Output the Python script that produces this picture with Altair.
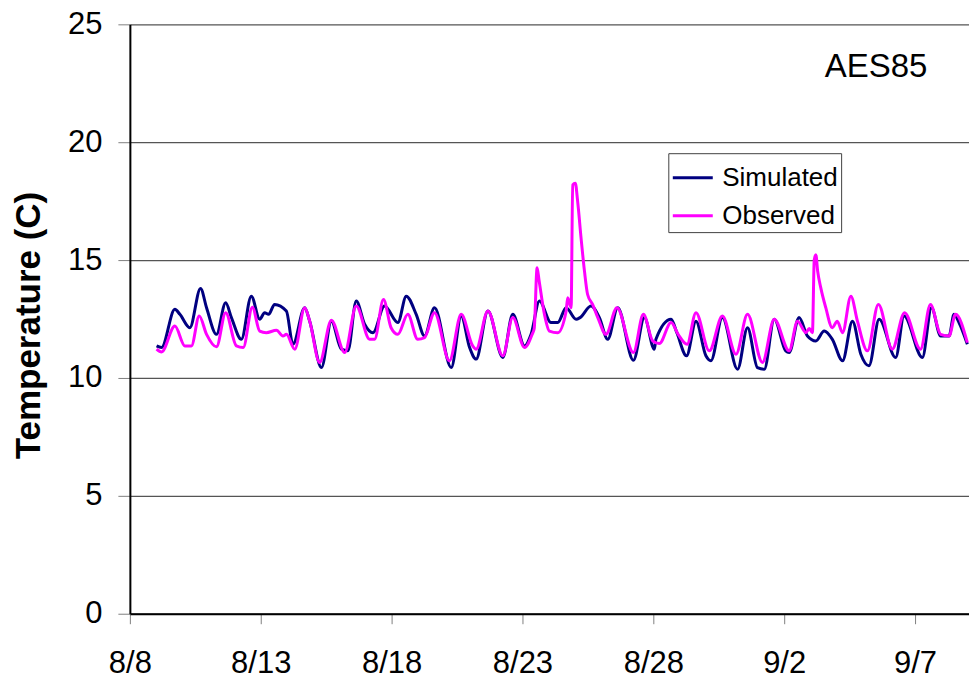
import altair as alt
import pandas as pd

# Days after 8/8 00:00 and temperatures (C)
sim_days = [1.02, 1.21, 1.72, 1.91, 2.29, 2.70, 2.93, 3.31, 3.66, 3.88, 4.26, 4.64, 4.96, 5.15, 5.30,
            5.53, 5.98, 6.23, 6.68, 6.87, 7.32, 7.70, 8.08, 8.33, 8.65, 8.97, 9.29, 9.73, 10.24, 10.56,
            10.94, 11.26, 11.64, 12.28, 12.66, 12.98, 13.23, 13.68, 14.25, 14.63, 15.08, 15.33, 15.65,
            16.09, 16.35, 16.67, 17.05, 17.20, 17.62, 17.94, 18.26, 18.64, 19.24, 19.66, 20.04, 20.10,
            20.68, 20.90, 21.27, 21.63, 22.01, 22.20, 22.64, 23.22, 23.60, 23.98, 24.24, 24.62, 25.06,
            25.19, 25.57, 25.89, 26.21, 26.53, 26.84, 27.23, 27.61, 27.93, 28.24, 28.63, 29.26, 29.58,
            30.28, 30.63, 30.98, 31.30, 31.49, 31.68, 32.00]
sim_temp = [11.36, 11.29, 12.91, 12.70, 12.13, 13.80, 12.98, 11.85, 13.19, 12.56, 11.64, 13.47, 12.49, 12.77, 12.70,
            13.12, 12.84, 11.43, 12.98, 12.41, 10.44, 12.41, 11.22, 11.15, 13.26, 12.28, 11.92, 13.05, 12.35, 13.47,
            12.70, 11.78, 12.98, 10.44, 12.63, 11.29, 10.80, 12.84, 10.87, 12.70, 11.36, 11.85, 13.26,
            12.35, 12.35, 12.98, 12.49, 12.56, 13.05, 12.56, 11.64, 12.98, 10.75, 12.56, 11.22, 11.64,
            12.49, 11.92, 10.94, 12.41, 10.94, 10.73, 12.56, 10.37, 12.13, 10.44, 10.37, 12.49, 11.15,
            11.08, 12.56, 11.78, 11.57, 11.99, 11.64, 10.73, 12.41, 11.01, 10.52, 12.49, 10.87, 12.63,
            10.87, 12.98, 11.78, 11.78, 12.70, 12.35, 11.43]

obs_days = [1.02, 1.21, 1.72, 2.10, 2.35, 2.65, 2.93, 3.31, 3.66, 4.07, 4.33, 4.68, 4.96, 5.21, 5.60,
            5.85, 5.98, 6.30, 6.68, 6.87, 7.25, 7.70, 8.21, 8.65, 9.16, 9.35, 9.69, 9.98, 10.24, 10.62,
            11.00, 11.26, 11.64, 12.21, 12.66, 13.10, 13.23, 13.68, 14.25, 14.63, 15.08, 15.37, 15.45,
            15.56, 15.64, 15.84, 16.03, 16.35, 16.67, 16.73, 16.86, 16.92, 17.02, 17.11, 17.24, 17.37,
            17.49, 17.68, 17.88, 18.19, 18.61, 19.24, 19.62, 19.98, 20.23, 20.68, 20.95, 21.29, 21.63,
            22.14, 22.64, 23.16, 23.60, 24.17, 24.62, 25.19, 25.51, 25.83, 25.96, 26.08, 26.15, 26.21,
            26.28, 26.40, 26.59, 26.84, 27.03, 27.23, 27.55, 27.80, 28.18, 28.60, 29.13, 29.60, 30.21,
            30.59, 30.98, 31.30, 31.55, 32.00]
obs_temp = [11.22, 11.10, 12.20, 11.36, 11.36, 12.63, 11.85, 11.32, 12.77, 11.36, 11.29, 13.00, 11.99, 11.92, 12.02,
            11.78, 11.85, 11.22, 12.98, 12.41, 10.66, 12.45, 11.08, 13.05, 11.64, 11.64, 13.33, 12.13, 11.85, 12.70,
            11.64, 11.71, 12.77, 10.73, 12.70, 11.36, 11.22, 12.84, 10.94, 12.56, 11.29, 11.85, 12.10,
            14.67, 14.10, 12.70, 11.99, 11.92, 12.84, 13.40, 12.98, 18.19, 18.26, 17.48, 15.93, 14.53,
            13.54, 13.12, 12.56, 11.85, 12.98, 11.08, 12.70, 11.57, 11.46, 12.35, 11.85, 11.43, 12.77,
            11.15, 12.63, 11.01, 12.70, 10.66, 12.49, 11.15, 12.41, 11.92, 12.10, 11.92, 15.02, 15.23,
            14.53, 13.82, 12.98, 12.13, 12.41, 11.92, 13.47, 12.41, 11.15, 13.12, 11.22, 12.77, 11.22,
            13.12, 11.85, 11.78, 12.70, 11.50]

series_names = ["Simulated", "Observed"]
series_colors = ["#000080", "#FF00FF"]
y_ticks = [0, 5, 10, 15, 20, 25]
start = pd.Timestamp("2005-08-08")

def frame(days, temps, name):
    return pd.DataFrame({
        "time": [(start + pd.to_timedelta(d, unit="D")).strftime("%Y-%m-%dT%H:%M:%S") for d in days],
        "temp": temps,
        "series": name,
    })

df = pd.concat([frame(sim_days, sim_temp, "Simulated"), frame(obs_days, obs_temp, "Observed")],
               ignore_index=True)

FONT = "Liberation Sans"
x_tick_dates = [alt.DateTime(year=2005, month=8, date=d) for d in (8, 13, 18, 23, 28)] + \
               [alt.DateTime(year=2005, month=9, date=d) for d in (2, 7)]

lines = alt.Chart(df).mark_line(strokeWidth=3, clip=True, interpolate="monotone").encode(
    x=alt.X("time:T",
            scale=alt.Scale(domain=[alt.DateTime(year=2005, month=8, date=8),
                                    alt.DateTime(year=2005, month=9, date=9, hours=1, minutes=30)]),
            axis=alt.Axis(values=x_tick_dates, format="%-m/%-d", title=None, grid=False,
                          domainColor="#000000", domainWidth=2, tickColor="#808080", tickSize=10,
                          labelFontSize=31, labelFont=FONT, labelColor="#000000", labelPadding=25,
                          labelFlush=False, labelOverlap=False)),
    y=alt.Y("temp:Q",
            scale=alt.Scale(domain=[0, 25], nice=False),
            axis=alt.Axis(values=y_ticks, title="Temperature (C)", grid=True, gridColor="#555555",
                          gridWidth=1.2, domainColor="#000000", domainWidth=2, tickColor="#808080",
                          tickSize=12, labelFontSize=31, labelFont=FONT, labelColor="#000000",
                          labelPadding=16, titleFont=FONT, titleFontSize=35, titleFontWeight="bold",
                          titleColor="#000000", titleX=-101, titleY=301, titleBaseline="middle",
                          titleAngle=270)),
    color=alt.Color("series:N",
                    scale=alt.Scale(domain=series_names, range=series_colors),
                    legend=alt.Legend(title=None, orient="none", legendX=539, legendY=129,
                                      symbolType="stroke", symbolSize=1600, symbolStrokeWidth=3,
                                      labelFont=FONT, labelFontSize=26, labelColor="#000000",
                                      labelOffset=8, rowPadding=3, padding=3,
                                      strokeColor="#404040", fillColor="#FFFFFF")),
    order=alt.Order("time:T"),
)

label = alt.Chart(pd.DataFrame({"txt": ["AES85"]})).mark_text(
    font=FONT, fontSize=33, color="#000000", align="center", baseline="alphabetic"
).encode(text="txt:N", x=alt.value(747), y=alt.value(53))

chart = alt.layer(lines, label).properties(
    width=840, height=590,
    padding={"left": 122, "top": 16, "right": 0, "bottom": 68},
    autosize=alt.AutoSizeParams(type="none"),
).configure_view(strokeWidth=0)

chart.save("out.html", embed_options={"renderer": "svg", "actions": False})
